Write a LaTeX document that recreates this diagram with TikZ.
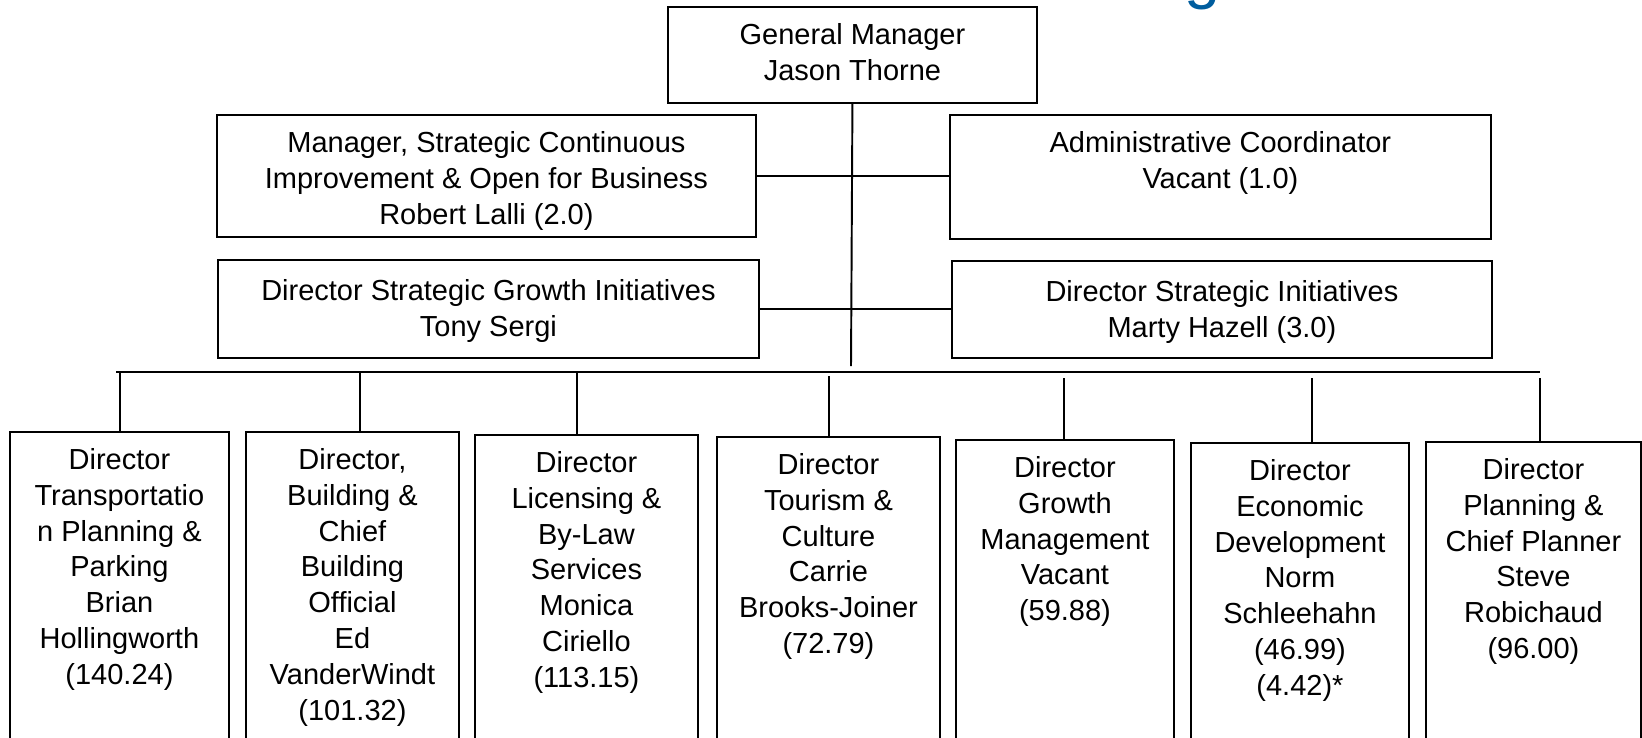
\documentclass[tikz,border=0pt]{standalone}
\usepackage{fontspec}
\setmainfont{Liberation Sans}
\definecolor{titleblue}{RGB}{0,93,158}
\newcommand{\orgcell}[4]{\parbox[t][#2][t]{#1}{\centering\rule{0pt}{#3}#4\par}}

\begin{document}
\begin{tikzpicture}[x = 0.02cm, y = -0.02cm,
    post/.style = {draw, line width=1.1pt, inner sep=0pt, anchor=north west,
                   font=\fontsize{16.5pt}{20.4pt}\selectfont},
    link/.style = {line width=1.1pt}]
    \useasboundingbox (0,0) rectangle (1642,737);
    \clip (0,0) rectangle (1642,737);
    % what is left of the title
    \node [anchor=base west, inner sep=0pt, text=titleblue,
           font=\fontsize{37pt}{40pt}\selectfont] (title) at (1184,-4) {g};
    % top of the chart
    \node [post] (gm) at (667,6) {\orgcell{7.38cm}{1.92cm}{0.76cm}{General Manager\\Jason Thorne}};
    \node [post] (mgr) at (216,114) {\orgcell{10.78cm}{2.44cm}{0.76cm}{Manager, Strategic Continuous\\Improvement \& Open for Business\\Robert Lalli (2.0)}};
    \node [post] (admin) at (949,114) {\orgcell{10.82cm}{2.48cm}{0.76cm}{Administrative Coordinator\\Vacant (1.0)}};
    \node [post] (dsgi) at (217,259) {\orgcell{10.82cm}{1.96cm}{0.82cm}{Director Strategic Growth Initiatives\\Tony Sergi}};
    \node [post] (dsi) at (951,260) {\orgcell{10.80cm}{1.94cm}{0.82cm}{Director Strategic Initiatives\\Marty Hazell (3.0)}};
    \coordinate (trunk) at (851,366);
    \draw [link] (gm.south) -- (trunk);
    \draw [link] (mgr.east) -- (mgr.east -| admin.west);
    \draw [link] (dsgi.east) -- (dsgi.east -| dsi.west);
    % directors
    \node [post] (b1) at (9,431) {\orgcell{4.38cm}{6.38cm}{0.75cm}{Director\\Transportatio\\n Planning \&\\Parking\\Brian\\Hollingworth\\(140.24)}};
    \node [post] (b2) at (245,431) {\orgcell{4.26cm}{6.38cm}{0.75cm}{Director,\\Building \&\\Chief\\Building\\Official\\Ed\\VanderWindt\\(101.32)}};
    \node [post] (b3) at (474,434) {\orgcell{4.46cm}{6.32cm}{0.75cm}{Director\\Licensing \&\\By-Law\\Services\\Monica\\Ciriello\\(113.15)}};
    \node [post] (b4) at (716,436) {\orgcell{4.46cm}{6.28cm}{0.75cm}{Director\\Tourism \&\\Culture\\Carrie\\Brooks-Joiner\\(72.79)}};
    \node [post] (b5) at (955,439) {\orgcell{4.36cm}{6.22cm}{0.75cm}{Director\\Growth\\Management\\Vacant\\(59.88)}};
    \node [post] (b6) at (1190,442) {\orgcell{4.36cm}{6.16cm}{0.75cm}{Director\\Economic\\Development\\Norm\\Schleehahn\\(46.99)\\(4.42)*}};
    \node [post] (b7) at (1425,441) {\orgcell{4.30cm}{6.18cm}{0.75cm}{Director\\Planning \&\\Chief Planner\\Steve\\Robichaud\\(96.00)}};
    \coordinate (barL) at (116,372);
    \coordinate (barR) at (1540,372);
    \draw [link, line width=1.3pt] (barL) -- (barR);
    \foreach \b/\x/\y in {b1/120/372, b2/360/372, b3/577/372, b4/829/376,
                          b5/1064/378, b6/1312/378, b7/1540/378}
    {
        \coordinate (top\b) at (\x,\y);
        \draw [link] (top\b) -- (top\b |- \b.north);
    }
\end{tikzpicture}
\end{document}
